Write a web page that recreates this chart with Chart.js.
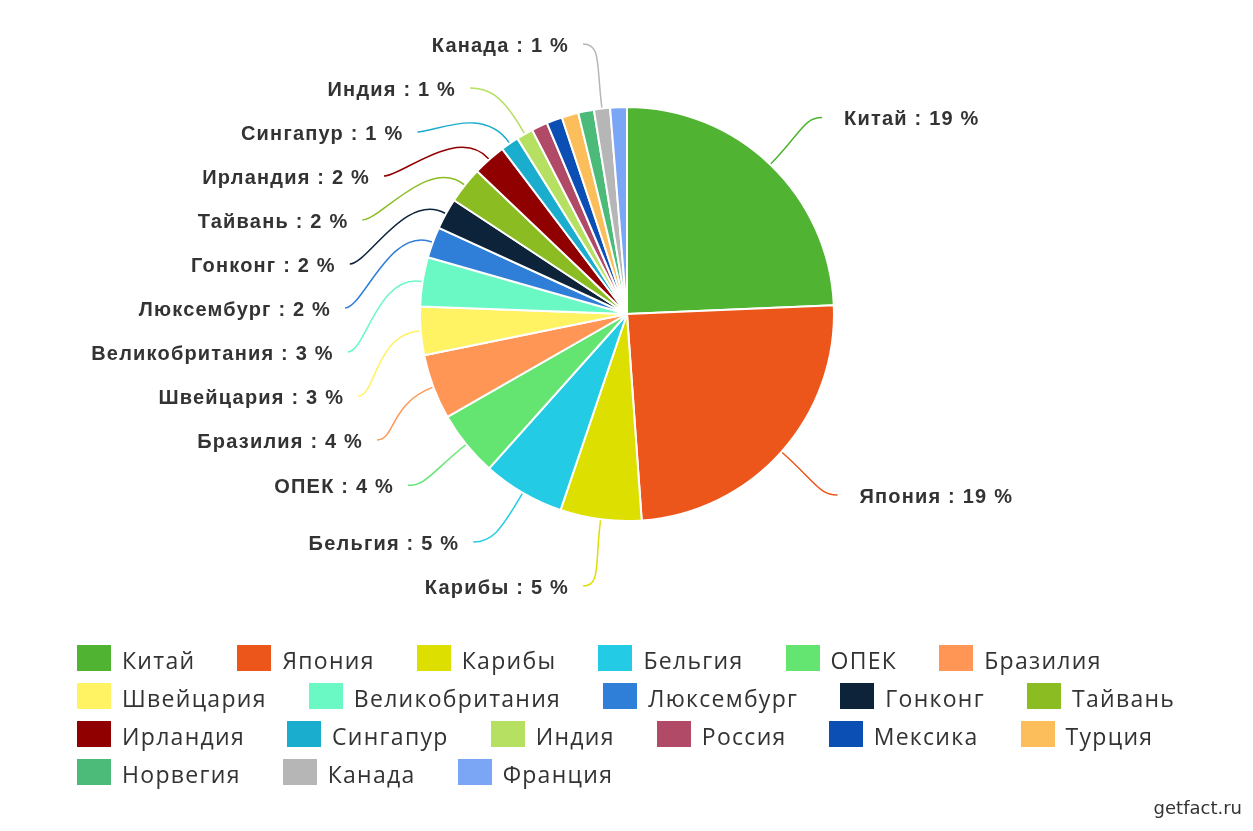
<!DOCTYPE html>
<html lang="ru">
<head>
<meta charset="utf-8">
<title>Держатели госдолга США</title>
<script src="https://cdn.jsdelivr.net/npm/chart.js@4.4.1/dist/chart.umd.min.js"></script>
<style>
    html, body {
        margin: 0;
        padding: 0;
        background: #ffffff;
    }
    #wrap {
        position: relative;
        width: 1253px;
        height: 831px;
        overflow: hidden;
    }
    #pieCanvas {
        position: absolute;
        left: 0;
        top: 0;
    }
    #legend {
        position: absolute;
        left: 77px;
        top: 645px;
        width: 1140px;
        display: flex;
        flex-wrap: wrap;
        column-gap: 42px;
        row-gap: 12px;
    }
    .legendItem {
        display: flex;
        align-items: flex-start;
        height: 26px;
    }
    .legendBox {
        width: 34px;
        height: 26px;
        margin-right: 11px;
        flex: none;
    }
    .legendText {
        font-family: "Open Sans", sans-serif;
        font-size: 23px;
        letter-spacing: 1.3px;
        line-height: 26px;
        color: #333333;
        position: relative;
        top: 2px;
        white-space: nowrap;
    }
    #watermark {
        position: absolute;
        right: 11px;
        top: 797px;
        font-family: "DejaVu Sans", sans-serif;
        font-size: 18px;
        color: #333333;
    }
</style>
</head>
<body>
<div id="wrap">
    <canvas id="pieCanvas" width="1253" height="831"></canvas>
    <div id="legend"></div>
    <div id="watermark">getfact.ru</div>
</div>
<script>
// страны и их доля (%)
const countries = [
    "Китай", "Япония", "Карибы", "Бельгия", "ОПЕК", "Бразилия",
    "Швейцария", "Великобритания", "Люксембург", "Гонконг", "Тайвань",
    "Ирландия", "Сингапур", "Индия", "Россия", "Мексика", "Турция",
    "Норвегия", "Канада", "Франция",
];
const shares = [
    19.2, 19.38, 5.0, 5.05, 4.04, 4.02,
    2.98, 3.03, 1.91, 1.91, 2.26,
    2.04, 1.12, 1.03, 0.99, 0.97, 1.03,
    0.97, 0.99, 1.03,
];
const sliceColors = [
    "#50b432", "#ed561b", "#dddf00", "#24cbe5", "#64e572", "#ff9655",
    "#fff263", "#6af9c4", "#2f7ed8", "#0d233a", "#8bbc21",
    "#910000", "#1aadce", "#b5e061", "#b04a66", "#0b4fb4", "#fcbe5a",
    "#4cbb7a", "#b6b6b6", "#7aa6f5",
];
// подписи, которые не поместились на исходной картинке
const hiddenLabels = ["Россия", "Мексика", "Турция", "Норвегия", "Франция"];

const outsideLabels = {
    id: "outsideLabels",
    afterDatasetsDraw(chart) {
        const ctx = chart.ctx;
        const arcs = chart.getDatasetMeta(0).data;
        let left = [];
        let right = [];

        arcs.forEach((arc, index) => {
            if (hiddenLabels.includes(countries[index])) return;
            let { x, y, startAngle, endAngle, outerRadius } = arc.getProps(
                ["x", "y", "startAngle", "endAngle", "outerRadius"], true);
            let mid = (startAngle + endAngle) / 2;
            let item = {
                index: index,
                cx: x,
                cy: y,
                r: outerRadius + 1,
                cos: Math.cos(mid),
                sin: Math.sin(mid),
            };
            item.a = item.r + 74;
            item.b = item.r + 64;
            item.naturalY = y + item.b * item.sin;
            if (item.cos < 0) left.push(item);
            else right.push(item);
        });

        spreadLabels(left);
        spreadLabels(right);

        ctx.save();
        left.concat(right).forEach((item) => {
            let isLeft = item.cos < 0;
            let dy = item.labelY - item.cy;
            let dx = item.a * Math.sqrt(Math.max(0, 1 - (dy / item.b) ** 2));
            dx = Math.max(dx, 44);
            let endX = isLeft ? item.cx - dx : item.cx + dx;
            let endY = item.labelY;

            let startX = item.cx + item.r * item.cos;
            let startY = item.cy + item.r * item.sin;
            let c1x = item.cx + (item.r + 45) * item.cos;
            let c1y = item.cy + (item.r + 45) * item.sin;
            let c2x = isLeft ? endX + 18 : endX - 18;

            ctx.beginPath();
            ctx.moveTo(startX, startY);
            ctx.bezierCurveTo(c1x, c1y, c2x, endY, endX, endY);
            ctx.strokeStyle = sliceColors[item.index];
            ctx.lineWidth = 1.5;
            ctx.stroke();

            ctx.font = "bold 20px 'Liberation Sans', Arial, sans-serif";
            ctx.letterSpacing = "1.2px";
            ctx.fillStyle = "#333333";
            ctx.textBaseline = "middle";
            ctx.textAlign = isLeft ? "right" : "left";
            let text = countries[item.index] + " : " + Math.round(shares[item.index]) + " %";
            ctx.fillText(text, isLeft ? endX - 14 : endX + 22, endY + 2);
        });
        ctx.restore();
    },
};

function spreadLabels(items) {
    if (items.length === 0) return;
    const gap = 44;
    items.sort((p, q) => p.naturalY - q.naturalY);
    let top = items[0].cy - items[0].b;
    let bottom = items[0].cy + items[0].b;

    items.forEach((item, i) => {
        let minY = i === 0 ? top : items[i - 1].labelY + gap;
        item.labelY = Math.max(item.naturalY, minY);
    });
    for (let i = items.length - 1; i >= 0; i--) {
        let maxY = i === items.length - 1 ? bottom : items[i + 1].labelY - gap;
        items[i].labelY = Math.min(items[i].labelY, maxY);
    }
}

function buildLegend() {
    let legend = document.getElementById("legend");
    countries.forEach((name, index) => {
        let item = document.createElement("div");
        item.className = "legendItem";

        let box = document.createElement("div");
        box.className = "legendBox";
        box.style.background = sliceColors[index];

        let text = document.createElement("div");
        text.className = "legendText";
        text.textContent = name;

        item.appendChild(box);
        item.appendChild(text);
        legend.appendChild(item);
    });
}

function drawPie() {
    let ctx = document.getElementById("pieCanvas").getContext("2d");
    new Chart(ctx, {
        type: "pie",
        data: {
            labels: countries,
            datasets: [
                {
                    data: shares,
                    backgroundColor: sliceColors,
                    borderColor: "#ffffff",
                    borderWidth: 2,
                },
            ],
        },
        options: {
            responsive: false,
            animation: false,
            layout: {
                padding: { top: 106, bottom: 309, left: 1, right: 0 },
            },
            plugins: {
                legend: { display: false },
                tooltip: { enabled: false },
            },
        },
        plugins: [outsideLabels],
    });
}

buildLegend();
drawPie();
</script>
</body>
</html>
